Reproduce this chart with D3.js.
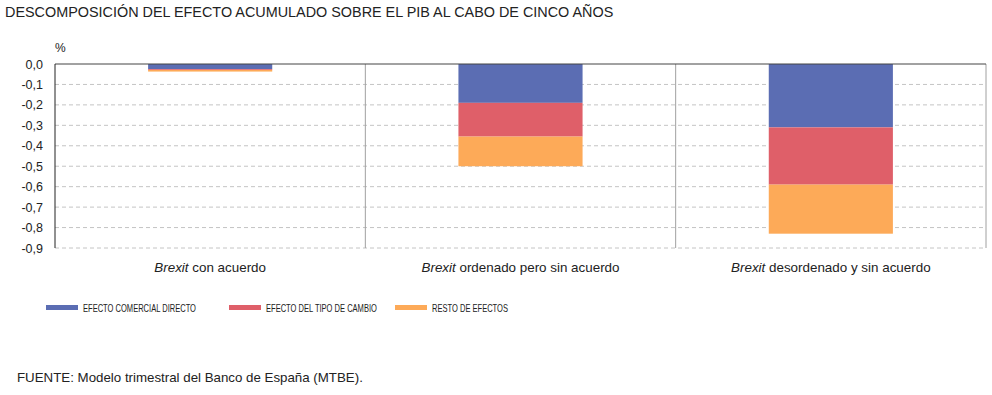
<!DOCTYPE html>
<html>
<head>
<meta charset="utf-8">
<script src="https://cdn.jsdelivr.net/npm/d3@7"></script>
<style>
  body { margin: 0; background: #fff; }
  svg text { font-family: "Liberation Sans", Arial, sans-serif; fill: #222; }
</style>
</head>
<body>
<svg id="chart" width="992" height="395"></svg>
<script>
// data
var escenarios = ["Brexit con acuerdo", "Brexit ordenado pero sin acuerdo", "Brexit desordenado y sin acuerdo"];
var comercial = [-0.025, -0.19, -0.31];
var tipoCambio = [-0.004, -0.165, -0.28];
var resto = [-0.008, -0.145, -0.24];
var series = ["EFECTO COMERCIAL DIRECTO", "EFECTO DEL TIPO DE CAMBIO", "RESTO DE EFECTOS"];
var colores = ["#5b6db3", "#df5f69", "#fdaa58"];
var yTicks = [0, -0.1, -0.2, -0.3, -0.4, -0.5, -0.6, -0.7, -0.8, -0.9];

var svg = d3.select("#chart");
var plotLeft = 55, plotRight = 986, plotTop = 64, plotBottom = 248;

var rows = escenarios.map(function (d, i) {
    return { cat: d, s0: comercial[i], s1: tipoCambio[i], s2: resto[i] };
});
var stacked = d3.stack().keys(["s0", "s1", "s2"]).offset(d3.stackOffsetDiverging)(rows);

var x = d3.scaleBand().domain(escenarios).range([plotLeft, plotRight]).padding(0);
var y = d3.scaleLinear().domain([-0.9, 0]).range([plotBottom, plotTop]);
var fmt = function (v) { return d3.format(".1f")(v).replace(".", ",").replace("−", "-"); };

// title
svg.append("text")
    .attr("x", 5).attr("y", 17)
    .style("font-size", "14.4px")
    .text("DESCOMPOSICIÓN DEL EFECTO ACUMULADO SOBRE EL PIB AL CABO DE CINCO AÑOS");

svg.append("text").attr("x", 55).attr("y", 52).style("font-size", "12px").text("%");

// grid
svg.append("g").selectAll("line")
    .data(yTicks.filter(function (d) { return d !== 0; }))
    .enter().append("line")
    .attr("x1", plotLeft).attr("x2", plotRight)
    .attr("y1", function (d) { return y(d); }).attr("y2", function (d) { return y(d); })
    .attr("stroke", "#c4c4c4").attr("stroke-dasharray", "4,3");

// y axis labels
var yAxis = d3.axisLeft(y).tickValues(yTicks).tickFormat(fmt).tickSize(0).tickPadding(12);
var ya = svg.append("g").attr("transform", "translate(" + plotLeft + ",0)").call(yAxis);
ya.select(".domain").remove();
ya.selectAll("text").style("font-size", "12.5px").style("font-family", "'Liberation Sans', Arial, sans-serif").attr("fill", "#222");

// panel separators
svg.append("g").selectAll("line")
    .data(escenarios.slice(1))
    .enter().append("line")
    .attr("x1", function (d) { return x(d); }).attr("x2", function (d) { return x(d); })
    .attr("y1", plotTop).attr("y2", plotBottom)
    .attr("stroke", "#a0a0a0");
svg.append("line").attr("x1", plotRight).attr("x2", plotRight).attr("y1", plotTop).attr("y2", plotBottom).attr("stroke", "#a0a0a0");

// bars
var bw = x.bandwidth() * 0.4;
svg.append("g").selectAll("g")
    .data(stacked)
    .enter().append("g")
    .attr("fill", function (d, i) { return colores[i]; })
    .selectAll("rect")
    .data(function (d) { return d; })
    .enter().append("rect")
    .attr("x", function (d) { return x(d.data.cat) + (x.bandwidth() - bw) / 2; })
    .attr("width", bw)
    .attr("y", function (d) { return y(d[1]); })
    .attr("height", function (d) { return y(d[0]) - y(d[1]); });

// axis lines
svg.append("line").attr("x1", plotLeft).attr("x2", plotRight).attr("y1", y(0)).attr("y2", y(0)).attr("stroke", "#444");
svg.append("line").attr("x1", plotLeft).attr("x2", plotLeft).attr("y1", plotTop).attr("y2", plotBottom).attr("stroke", "#222");

// category labels
var cl = svg.append("g").selectAll("text")
    .data(escenarios)
    .enter().append("text")
    .attr("x", function (d) { return x(d) + x.bandwidth() / 2; })
    .attr("y", 272)
    .attr("text-anchor", "middle")
    .style("font-size", "13.4px");
cl.append("tspan").style("font-style", "italic").text("Brexit");
cl.append("tspan").text(function (d) { return d.replace("Brexit", ""); });

// legend
var legX = [46, 229, 395];
var lg = svg.append("g").selectAll("g")
    .data(series)
    .enter().append("g")
    .attr("transform", function (d, i) { return "translate(" + legX[i] + ",305)"; });
lg.append("rect").attr("width", 32).attr("height", 5)
    .attr("fill", function (d, i) { return colores[i]; });
lg.append("text")
    .attr("transform", "translate(37,7) scale(0.64,1)")
    .style("font-size", "11.8px")
    .text(function (d) { return d; });

// source
svg.append("text").attr("x", 17).attr("y", 382).style("font-size", "13.3px")
    .text("FUENTE: Modelo trimestral del Banco de España (MTBE).");
</script>
</body>
</html>
